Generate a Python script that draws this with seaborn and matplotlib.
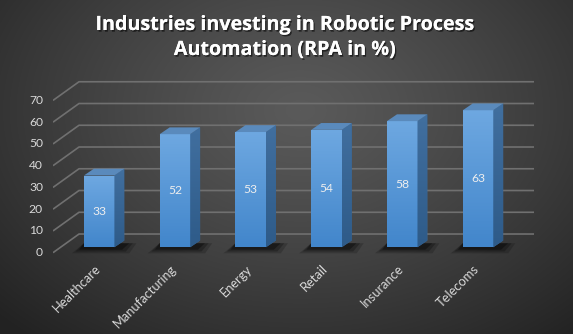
import numpy as np
import pandas as pd
import matplotlib
matplotlib.use("Agg")
import matplotlib.pyplot as plt
import seaborn as sns
from matplotlib.patches import Polygon
import matplotlib.patheffects as pe
from matplotlib.colors import LinearSegmentedColormap

industries = ["Healthcare", "Manufacturing", "Energy", "Retail", "Insurance", "Telecoms"]
share = [33, 52, 53, 54, 58, 63]
ytick_values = [0, 10, 20, 30, 40, 50, 60, 70]
title_lines = ["Industries investing in Robotic Process", "Automation (RPA in %)"]

sns.set_style("white")
plt.rcParams["font.family"] = ["Lato", "DejaVu Sans"]

W, H = 573, 334
fig = plt.figure(figsize=(W / 100, H / 100), dpi=100)

# background radial gradient
bg = fig.add_axes([0, 0, 1, 1], zorder=0)
yy, xx = np.mgrid[0:H, 0:W]
r = np.sqrt(((xx - 300) / 420.0) ** 2 + ((yy - 110) / 300.0) ** 2)
r = np.clip(r, 0, 1)
val = 0x5a - (0x5a - 0x22) * r ** 1.2
img = np.dstack([val, val, val]) / 255.0
bg.imshow(img, extent=[0, 1, 0, 1], aspect="auto")
bg.axis("off")

# main axes in pixel-calibrated placement
ax_l, ax_r, ax_t, ax_b = 53, 534, 60, 265
ax = fig.add_axes([ax_l / W, (H - ax_b) / H, (ax_r - ax_l) / W, (ax_b - ax_t) / H], zorder=1)
ax.set_facecolor("none")

df = pd.DataFrame({"industry": industries, "share": share})
sns.barplot(data=df, x="industry", y="share", order=industries, ax=ax,
            width=0.4025, color="#4a8fd4", saturation=1, zorder=3,
            edgecolor="none", linewidth=0)

xl = (-0.609, 5.739)
yl = (-8.14, 86.1)

px_x = (ax_r - ax_l) / (xl[1] - xl[0])  # px per x unit
px_y = (ax_b - ax_t) / (yl[1] - yl[0])  # px per y unit

# gridlines (floor-to-back 3D style)
front_off = -2.48
back_off = 6.1
back_x = xl[0] + 26 / px_x
for v in ytick_values:
    ax.plot([xl[0], back_x, xl[1]], [v + front_off, v + back_off, v + back_off],
            color="#707070", lw=1.2, zorder=1, solid_capstyle="butt")
    ax.text(xl[0] - 10 / px_x, v + front_off, str(v), ha="right", va="center",
            color="#d9d9d9", fontsize=8.7)

front_cmap = LinearSegmentedColormap.from_list("front", ["#4286cb", "#6ea8e1"])
side_cmap = LinearSegmentedColormap.from_list("side", ["#2e5b89", "#416f9f"])
dx = 10 / px_x
dy = 6.8 / px_y
grad = np.linspace(0, 1, 64).reshape(-1, 1)

for p in list(ax.patches):
    p.set_edgecolor("none")
    p.set_linewidth(0)
    x0 = p.get_x()
    w = p.get_width()
    h = p.get_height()
    # shadow on floor
    for k, a in zip([1.0, 0.7, 0.4], [0.18, 0.25, 0.35]):
        sx = 12 * k / px_x
        sy = 6 * k / px_y
        shadow = Polygon([(x0 - sx, -sy), (x0 + w + dx * 0.3 + sx, -sy),
                          (x0 + w + dx + sx, dy * 0.6), (x0, dy * 0.6)],
                         closed=True, facecolor="black", edgecolor="none", alpha=a, zorder=2)
        ax.add_patch(shadow)
    # front gradient
    im = ax.imshow(grad, extent=[x0, x0 + w, 0, h], origin="lower", aspect="auto",
                   cmap=front_cmap, zorder=3.5)
    im.set_clip_path(p)
    # side face
    side = Polygon([(x0 + w, 0), (x0 + w + dx, dy), (x0 + w + dx, h + dy), (x0 + w, h)],
                   closed=True, facecolor="#3a6898", edgecolor="none", zorder=3)
    ax.add_patch(side)
    ims = ax.imshow(grad, extent=[x0 + w, x0 + w + dx, 0, h + dy], origin="lower",
                    aspect="auto", cmap=side_cmap, zorder=3.5)
    ims.set_clip_path(side)
    # top face
    top = Polygon([(x0, h), (x0 + w, h), (x0 + w + dx, h + dy), (x0 + dx, h + dy)],
                  closed=True, facecolor="#5a8abc", edgecolor="none", zorder=3.6)
    ax.add_patch(top)
    # data label
    ax.text(x0 + w / 2, h / 2, f"{h:.0f}", ha="center", va="center",
            color="#eeeeee", fontsize=8.7, zorder=5)

# category labels
for i, name in enumerate(industries):
    ax.text(i - 5 / px_x, -10 / px_y + front_off, name, rotation=45, ha="right", va="top",
            rotation_mode="anchor", color="#d9d9d9", fontsize=9.3, clip_on=False)

ax.set_xlim(*xl)
ax.set_ylim(*yl)
ax.set_xlabel("")
ax.set_ylabel("")
ax.set_xticks([])
ax.set_yticks([])
for s in ax.spines.values():
    s.set_visible(False)

shadow_fx = [pe.withSimplePatchShadow(offset=(1, -1.2), shadow_rgbFace="black", alpha=0.55),
             pe.Normal()]
for line, base_px in zip(title_lines, [30, 55]):
    fig.text(285 / W, 1 - base_px / H, line, ha="center", va="baseline", color="white",
             fontsize=14.2, fontweight="bold", family=["Open Sans", "DejaVu Sans"],
             path_effects=shadow_fx)

fig.savefig("out.png", dpi=100)
